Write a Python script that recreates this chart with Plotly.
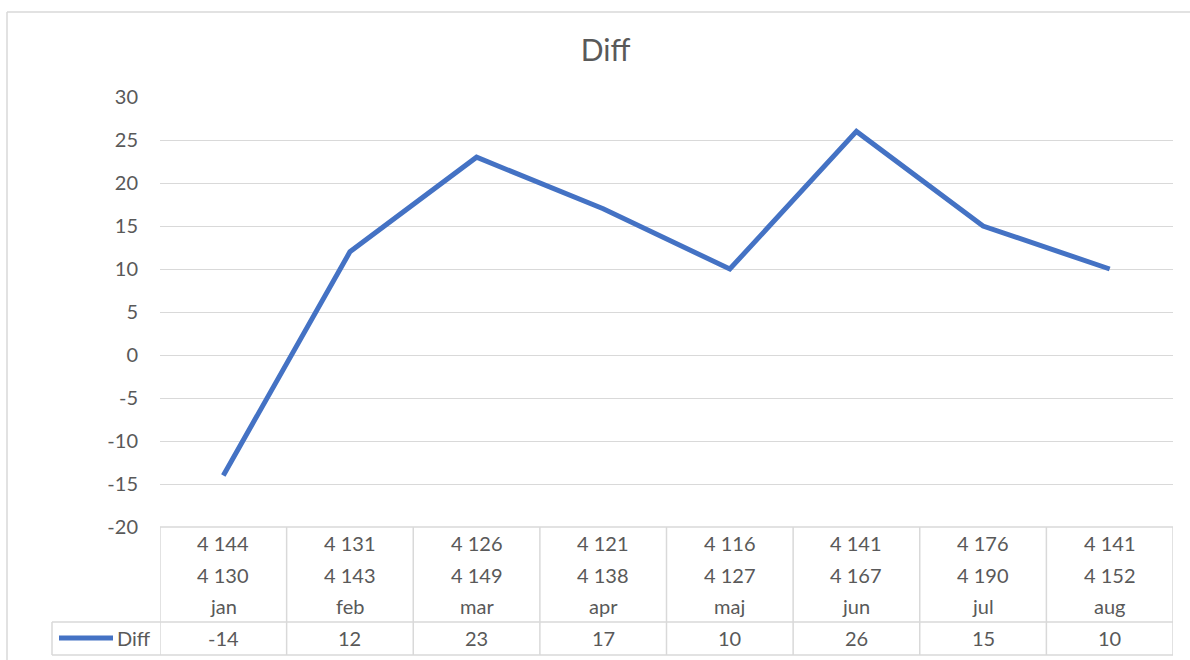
import plotly.graph_objects as go

months = ["jan", "feb", "mar", "apr", "maj", "jun", "jul", "aug"]
row1 = ["4 144", "4 131", "4 126", "4 121", "4 116", "4 141", "4 176", "4 141"]
row2 = ["4 130", "4 143", "4 149", "4 138", "4 127", "4 167", "4 190", "4 152"]
diff = [-14, 12, 23, 17, 10, 26, 15, 10]
yticks = [-20, -15, -10, -5, 0, 5, 10, 15, 20, 25, 30]

W, H = 1190, 660
FONT = "Lato, 'Open Sans', sans-serif"
TXT = "#595959"
GRID = "#D9D9D9"
BLUE = "#4472C4"
FS = 20

def py(p):  # pixel y -> paper y
    return 1 - p / H

def px(p):
    return p / W

x_idx = list(range(len(months)))

fig = go.Figure()
fig.add_trace(go.Scatter(
    x=x_idx, y=diff, mode="lines", name="Diff",
    line=dict(color=BLUE, width=5), showlegend=False,
))

plot_left, plot_right = 160, 1173
plot_top, plot_bottom = 97, 527

fig.update_layout(
    width=W, height=H, autosize=False,
    margin=dict(l=0, r=0, t=0, b=0, pad=0, autoexpand=False),
    showlegend=False,
    paper_bgcolor="white", plot_bgcolor="white",
    font=dict(family=FONT, color=TXT, size=FS),
    xaxis=dict(
        domain=[px(plot_left), px(plot_right)],
        range=[-0.5, len(months) - 0.5],
        showgrid=False, zeroline=False, showticklabels=False, showline=False,
        fixedrange=True, automargin=False,
    ),
    yaxis=dict(
        domain=[py(plot_bottom), py(plot_top)],
        range=[-20, 30],
        tickvals=yticks,
        ticktext=[str(v) for v in yticks],
        showgrid=True, gridcolor=GRID, gridwidth=1.3,
        zeroline=False, showline=False,
        ticks="", ticklabelstandoff=21,
        tickfont=dict(size=FS, color=TXT, family=FONT),
        fixedrange=True, automargin=False,
    ),
    title=dict(
        text="Diff", x=0.509, xanchor="center", y=py(50), yanchor="middle",
        font=dict(size=30, color=TXT, family=FONT),
    ),
)

shapes = []
# chart frame (cropped at right/bottom)
shapes.append(dict(type="line", xref="paper", yref="paper",
                   x0=px(7), x1=1.0, y0=py(12), y1=py(12),
                   line=dict(color=GRID, width=1.5)))
shapes.append(dict(type="line", xref="paper", yref="paper",
                   x0=px(7), x1=px(7), y0=py(12), y1=0.0,
                   line=dict(color=GRID, width=1.5)))

# table horizontal lines
shapes.append(dict(type="line", xref="paper", yref="paper",
                   x0=px(plot_left), x1=px(plot_right), y0=py(527), y1=py(527),
                   line=dict(color=GRID, width=1.5)))
for yy in (622, 655):
    shapes.append(dict(type="line", xref="paper", yref="paper",
                       x0=px(52), x1=px(plot_right), y0=py(yy), y1=py(yy),
                       line=dict(color=GRID, width=1.5)))
# table vertical lines
for i in range(len(months) + 1):
    shapes.append(dict(type="line", xref="x", yref="paper",
                       x0=i - 0.5, x1=i - 0.5, y0=py(527), y1=py(655),
                       line=dict(color=GRID, width=1.5)))
shapes.append(dict(type="line", xref="paper", yref="paper",
                   x0=px(52), x1=px(52), y0=py(622), y1=py(655),
                   line=dict(color=GRID, width=1.5)))
# legend key line
shapes.append(dict(type="line", xref="paper", yref="paper",
                   x0=px(59), x1=px(113), y0=py(638), y1=py(638),
                   line=dict(color=BLUE, width=5)))
fig.update_layout(shapes=shapes)

ann = []
for i, m in enumerate(months):
    for text, yy in ((row1[i], 543), (row2[i], 575), (m, 606), (str(diff[i]), 638)):
        ann.append(dict(x=i, y=py(yy), xref="x", yref="paper", text=text,
                        showarrow=False, xanchor="center", yanchor="middle",
                        font=dict(size=FS, color=TXT, family=FONT)))
ann.append(dict(x=px(115), y=py(638), xref="paper", yref="paper", text="Diff",
                showarrow=False, xanchor="left", yanchor="middle",
                font=dict(size=FS, color=TXT, family=FONT)))
fig.update_layout(annotations=ann)

fig.write_html("out.html")
